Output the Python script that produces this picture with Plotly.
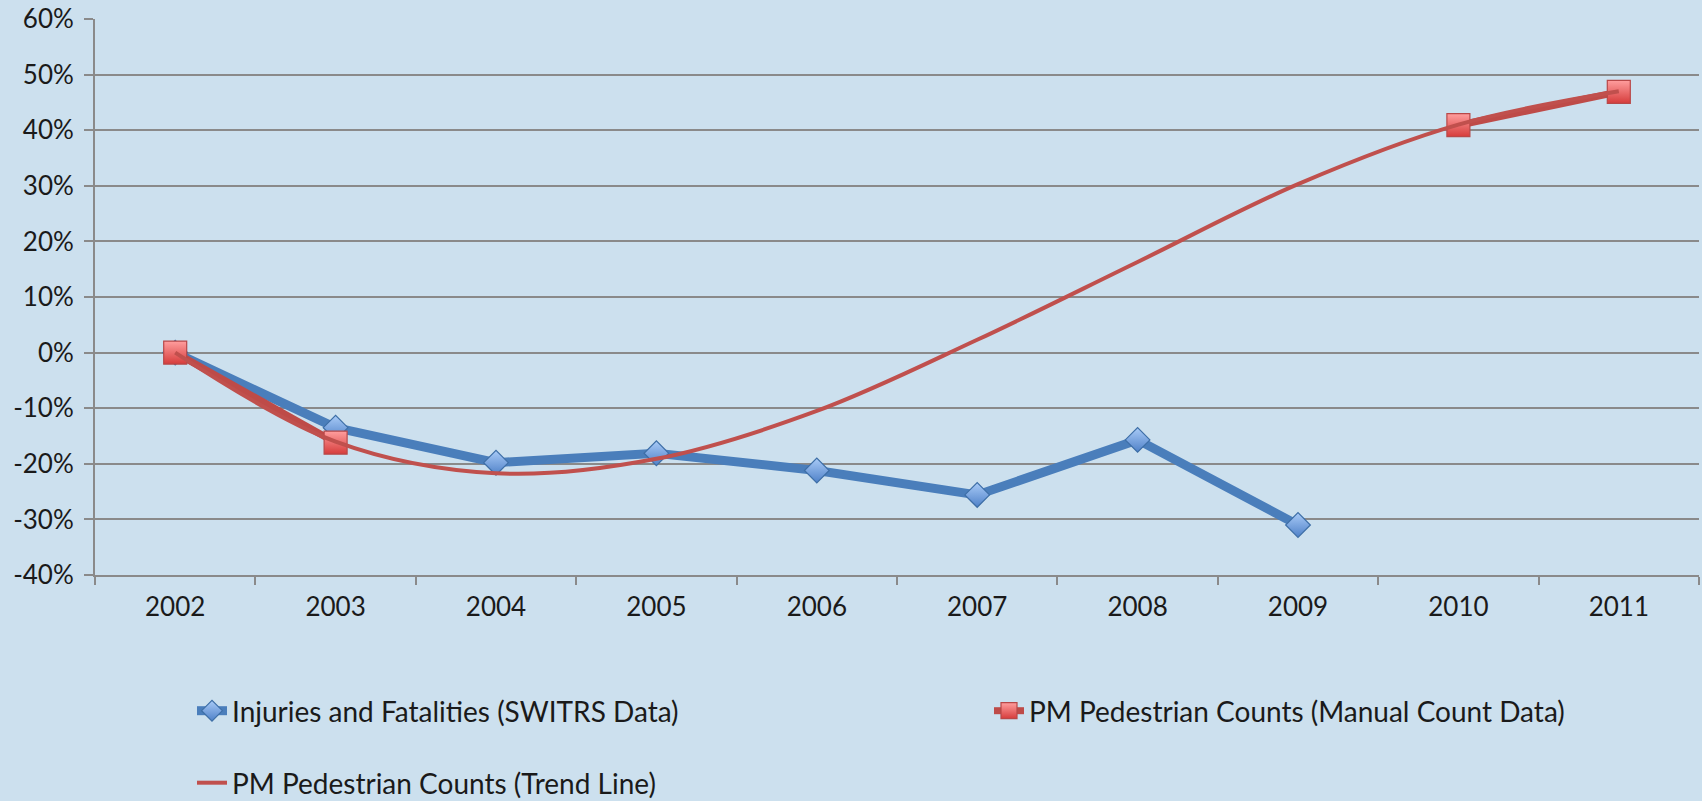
import plotly.graph_objects as go

# Percent change relative to 2002
years = ["2002", "2003", "2004", "2005", "2006", "2007", "2008", "2009", "2010", "2011"]
injuries_pct = [0.0, -13.5, -19.8, -18.1, -21.2, -25.6, -15.7, -31.0, None, None]
ped_counts_pct = [0.0, -16.2, None, None, None, None, None, None, 40.9, 46.9]
ped_trend_pct = [0.0, -16.0, -21.7, -19.1, -10.5, 2.3, 16.3, 30.3, 41.0, 47.0]

y_ticks = [-40, -30, -20, -10, 0, 10, 20, 30, 40, 50, 60]
y_tick_labels = [f"{v}%" for v in y_ticks]

names = [
    "Injuries and Fatalities (SWITRS Data)",
    "PM Pedestrian Counts (Manual Count Data)",
    "PM Pedestrian Counts (Trend Line)",
]

W, H = 1702, 801
FONT = "Lato"
TXT = "#1a1a1a"
BG = "#cce0ee"
GRID = "#8a8a8a"

fig = go.Figure()

fig.add_trace(go.Scatter(
    x=years, y=injuries_pct, name=names[0], mode="lines+markers",
    line=dict(color="#4a7ebb", width=9),
    marker=dict(symbol="diamond", size=19, color="#a9cbf7",
                gradient=dict(type="vertical", color="#4f81c8"),
                line=dict(color="#3d6ea6", width=1.2)),
    legend="legend",
))

fig.add_trace(go.Scatter(
    x=years, y=ped_counts_pct, name=names[1], mode="lines+markers",
    connectgaps=False,
    line=dict(color="#be4b48", width=7),
    marker=dict(symbol="square", size=23, color="#ff9e9e",
                gradient=dict(type="vertical", color="#d63c3b"),
                line=dict(color="#b84848", width=1.2)),
    legend="legend2",
))

fig.add_trace(go.Scatter(
    x=years, y=ped_trend_pct, name=names[2], mode="lines",
    line=dict(color="#c0504d", width=4, shape="spline", smoothing=1.0),
    legend="legend3",
))


def legend_box(x_px, y_px):
    return dict(
        orientation="h", xref="container", yref="container",
        x=x_px / W, y=1 - y_px / H, xanchor="left", yanchor="middle",
        bgcolor="rgba(0,0,0,0)", font=dict(family=FONT, size=28, color=TXT),
        itemclick=False, itemdoubleclick=False,
    )


fig.update_layout(
    width=W, height=H,
    margin=dict(l=95, r=3, t=19, b=226),
    paper_bgcolor=BG, plot_bgcolor=BG,
    font=dict(family=FONT, size=26, color=TXT),
    showlegend=True,
    legend=legend_box(192, 711),
    legend2=legend_box(989, 711),
    legend3=legend_box(192, 783),
    xaxis=dict(
        type="category", categoryorder="array", categoryarray=years,
        range=[-0.5, len(years) - 0.5],
        showgrid=False, zeroline=False,
        showline=True, linecolor=GRID, linewidth=2,
        ticks="outside", tickson="boundaries", ticklen=8, tickwidth=2, tickcolor=GRID,
        tickfont=dict(family=FONT, size=26, color=TXT),
        ticklabelstandoff=8,
    ),
    yaxis=dict(
        range=[-40, 60], tickmode="array", tickvals=y_ticks, ticktext=y_tick_labels,
        showgrid=True, gridcolor=GRID, gridwidth=2,
        zeroline=False,
        showline=True, linecolor=GRID, linewidth=2,
        ticks="outside", ticklen=9, tickwidth=2, tickcolor=GRID,
        tickfont=dict(family=FONT, size=26, color=TXT),
        ticklabelstandoff=5,
    ),
)

fig.write_html("out.html")
